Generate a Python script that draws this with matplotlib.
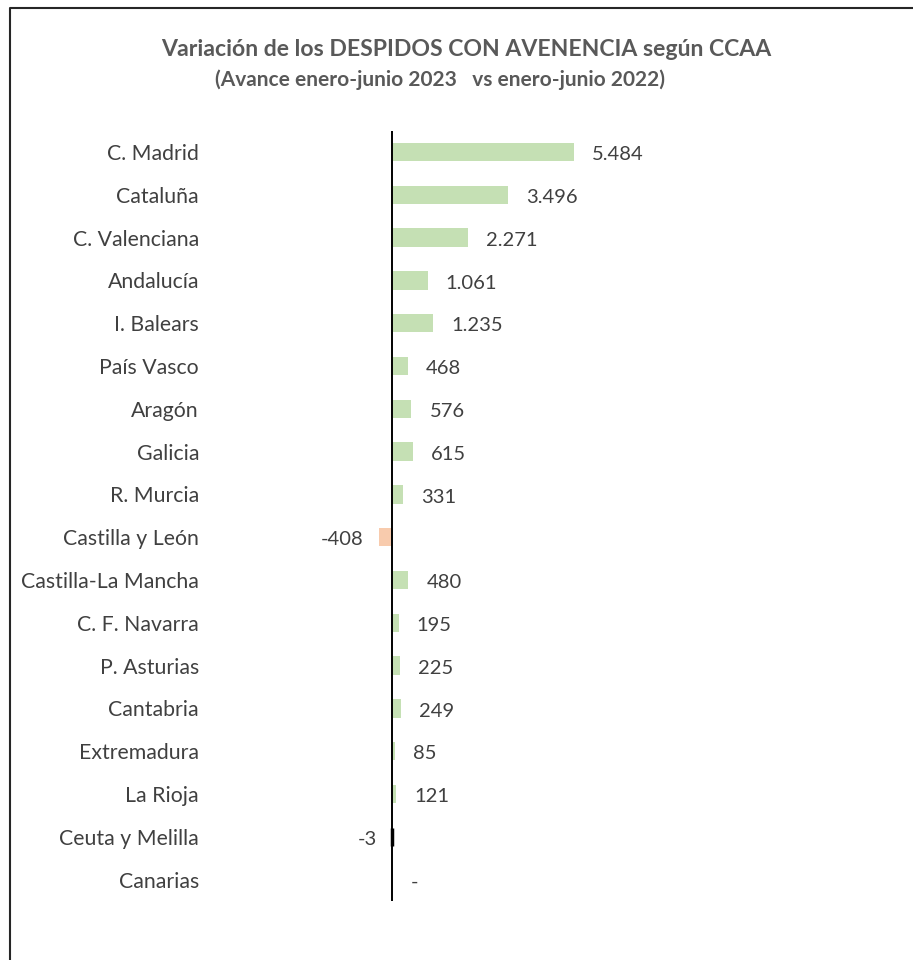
import numpy as np
import matplotlib
matplotlib.use("Agg")
import matplotlib.pyplot as plt
from matplotlib.lines import Line2D

plt.rcParams['font.family'] = ['Lato', 'DejaVu Sans']

# =============================================================================
# data
# =============================================================================
regions = ['C. Madrid', 'Cataluña', 'C. Valenciana', 'Andalucía', 'I. Balears',
           'País Vasco', 'Aragón', 'Galicia', 'R. Murcia', 'Castilla y León',
           'Castilla-La Mancha', 'C. F. Navarra', 'P. Asturias', 'Cantabria',
           'Extremadura', 'La Rioja', 'Ceuta y Melilla', 'Canarias']
values = [5484, 3496, 2271, 1061, 1235, 468, 576, 615, 331, -408,
          480, 195, 225, 249, 85, 121, -3, 0]

title = 'Variación de los DESPIDOS CON AVENENCIA según CCAA'
subtitle = '(Avance enero-junio 2023   vs enero-junio 2022)'

green = '#c5e0b4'
orange = '#f8cbad'
txt = '#404040'


def fmt(v):
    # spanish thousands separator, zero shown as dash
    if v == 0:
        return '-'
    return '{:,}'.format(v).replace(',', '.')


# =============================================================================
# plot
# =============================================================================
W, H = 913, 960
fig = plt.figure(figsize=(W / 100, H / 100), dpi=100)

x0 = 392.3
ppu = 182 / 5484          # pixels per unit
xmin, xmax = -5500, 14700
left = (x0 + xmin * ppu) / W
right = (x0 + xmax * ppu) / W
ax = fig.add_axes([left, 1 - 901 / H, right - left, (901 - 130.6) / H])

y = np.arange(len(regions))
vals = np.array(values)
colors = [green if v >= 0 else orange for v in vals]
bars = ax.barh(y, vals, height=0.43, color=colors, zorder=2)
# the tiny negative bar shows up as a black tick
for b, v in zip(bars, vals):
    if -10 < v < 0:
        b.set_edgecolor('black')
        b.set_linewidth(2.5)

ax.axvline(0, color='black', lw=1.4, zorder=3)

for yi, v in zip(y, vals):
    if v >= 0:
        ax.annotate(fmt(v), (v, yi), xytext=(13, -2), textcoords='offset points',
                    ha='left', va='center', fontsize=14.5, color=txt)
    else:
        ax.annotate(fmt(v), (v, yi), xytext=(-11, -2), textcoords='offset points',
                    ha='right', va='center', fontsize=14.5, color=txt)

ax.set_xlim(xmin, xmax)
ax.set_ylim(len(regions) - 0.5, -0.5)
ax.set_xticks([])
ax.set_yticks(y)
ax.set_yticklabels(regions, fontsize=15.3, color=txt)
ax.tick_params(axis='y', length=0, pad=(x0 + xmin * ppu - 199) * 0.72)
for s in ax.spines.values():
    s.set_visible(False)

fig.text(466 / W, 1 - 50 / H, title, ha='center', va='center',
         fontsize=16.6, fontweight='bold', color='#595959')
fig.text(440 / W, 1 - 80 / H, subtitle, ha='center', va='center',
         fontsize=15, fontweight='bold', color='#595959')

# chart frame (only left and top edges are visible in the crop)
fig.add_artist(Line2D([9.5 / W, 9.5 / W, 1], [0, 1 - 8 / H, 1 - 8 / H],
                      transform=fig.transFigure, color='#262626', lw=1.5))

fig.savefig('out.png', dpi=100)
